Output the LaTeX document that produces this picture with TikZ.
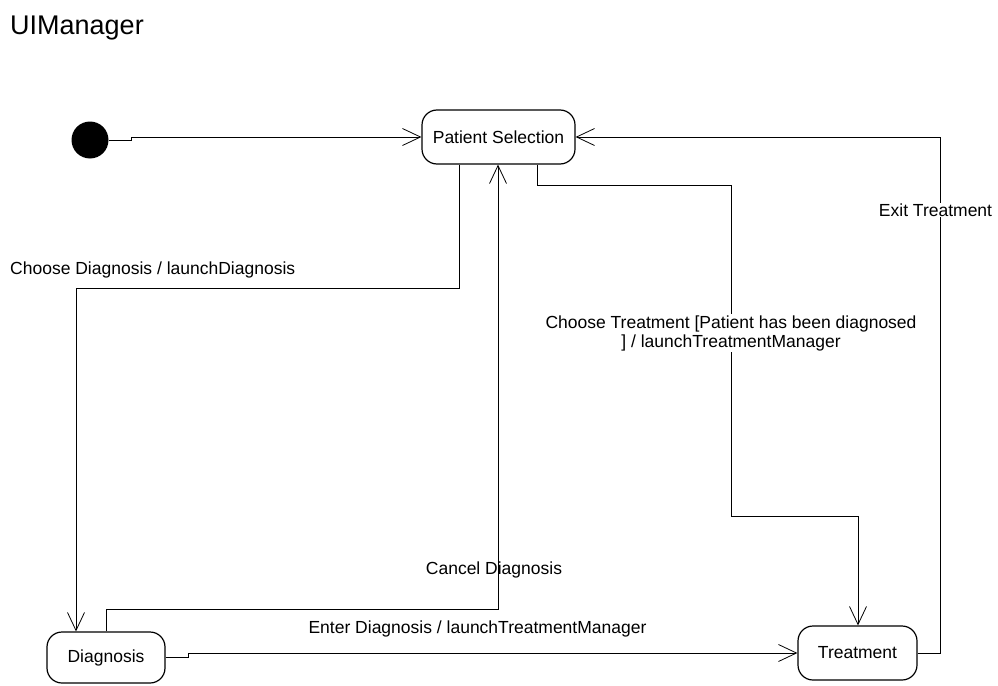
\documentclass[tikz,border=0pt]{standalone}
\usepackage{fontspec}
\setmainfont{Liberation Sans}
\usetikzlibrary{arrows.meta}
\begin{document}
\begin{tikzpicture}[x=1pt,y=-1pt,
  statebox/.style={draw,line width=1.2pt,rounded corners=15pt,inner sep=0pt,
    font=\fontsize{17.5}{19}\selectfont},
  trans/.style={draw,line width=0.8pt,-{Straight Barb[length=18pt,width=17pt,line width=0.8pt]}},
  lbl/.style={font=\fontsize{17.5}{19}\selectfont,inner sep=1pt,align=center},
  lblbg/.style={lbl,fill=white}]
\useasboundingbox (0,0) rectangle (998,685);

% title of the state machine
\node[anchor=west,font=\fontsize{27}{30}\selectfont,inner sep=0pt] (title) at (10,28) {UIManager};

% states
\node[circle,fill=black,minimum size=37pt,inner sep=0pt] (init) at (90,140) {};
\node[statebox,minimum width=153pt,minimum height=54pt] (ps) at (498.5,137) {Patient Selection};
\node[statebox,minimum width=118pt,minimum height=51pt] (diag) at (106,657.5) {Diagnosis};
\node[statebox,minimum width=119pt,minimum height=54pt] (treat) at (857.5,653) {Treatment};

% transitions
\draw[trans] (init.east) -- (131,140) -- (131,137) -- (ps.west);

\draw[trans] ([xshift=-39.5pt]ps.south) -- (459,288) -- (76,288) -- ([xshift=-30pt]diag.north);
\node[lbl,anchor=west] (l1) at (9,270) {Choose Diagnosis / launchDiagnosis};

\draw[trans] ([xshift=0pt]diag.north) -- (106,609) -- (498,609) -- ([xshift=-0.5pt]ps.south);
\node[lbl] (l2) at (494,570) {Cancel Diagnosis};

\draw[trans] ([xshift=38.5pt]ps.south) -- (537,185) -- (731,185) -- (731,516) -- (858,516) -- ([xshift=0.5pt]treat.north);
\node[lblbg] (l3) at (731,333) {Choose Treatment [Patient has been diagnosed\\] / launchTreatmentManager};

\draw[trans] (diag.east) -- (188,657.5) -- (188,653) -- (treat.west);
\node[lbl] (l4) at (477.5,629) {Enter Diagnosis / launchTreatmentManager};

\draw[trans] (treat.east) -- (940,653) -- (940,137) -- (ps.east);
\node[lblbg] (l5) at (935.5,210) {Exit Treatment};
\end{tikzpicture}
\end{document}
